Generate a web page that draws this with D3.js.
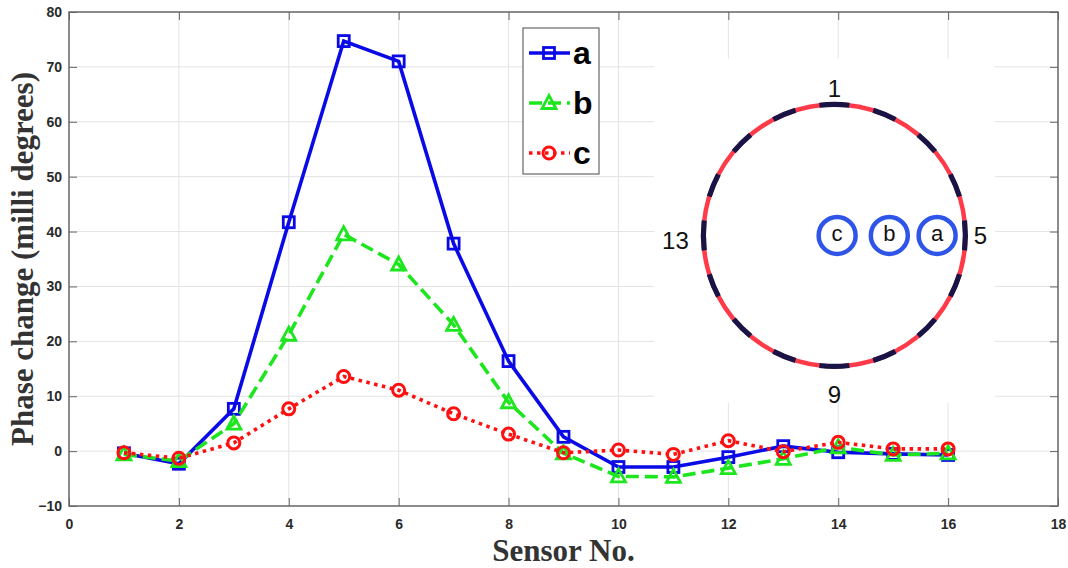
<!DOCTYPE html>
<html>
<head>
<meta charset="utf-8">
<script src="https://cdn.jsdelivr.net/npm/d3@7"></script>
<style>
  body { margin: 0; background: #fff; }
  svg { display: block; }
</style>
</head>
<body>
<div id="chart"></div>
<script>
// sensor numbers and measured phase change (milli degrees)
const sensors = [1, 2, 3, 4, 5, 6, 7, 8, 9, 10, 11, 12, 13, 14, 15, 16];
const seriesA = [-0.4, -2.3, 7.7, 41.7, 74.7, 71.0, 37.8, 16.4, 2.6, -2.9, -2.9, -1.1, 0.9, -0.2, -0.5, -0.7];
const seriesB = [-0.6, -1.8, 5.0, 21.2, 39.5, 34.0, 23.0, 8.9, -0.4, -4.6, -4.7, -3.1, -1.4, 0.7, -0.7, -0.4];
const seriesC = [-0.3, -1.3, 1.5, 7.7, 13.6, 11.1, 6.8, 3.1, -0.3, 0.2, -0.6, 1.9, -0.1, 1.6, 0.4, 0.4];
const xTicks = [0, 2, 4, 6, 8, 10, 12, 14, 16, 18];
const yTicks = [-10, 0, 10, 20, 30, 40, 50, 60, 70, 80];
const seriesNames = ["a", "b", "c"];

// inset sketch: sensor ring labels and source positions (in axis units)
const ringLabels = [1, 5, 9, 13];
const sourceNames = ["c", "b", "a"];
const sourceX = [13.98, 14.93, 15.8];

const W = 1068, H = 568;
const margin = {top: 12, right: 10, bottom: 62, left: 69};
const width = W - margin.left - margin.right;
const height = H - margin.top - margin.bottom;

const svg = d3.select("#chart").append("svg")
    .attr("width", W).attr("height", H);
const g = svg.append("g")
    .attr("transform", `translate(${margin.left},${margin.top})`);

const x = d3.scaleLinear().domain([0, 18]).range([0, width]);
const y = d3.scaleLinear().domain([-10, 80]).range([height, 0]);

// grid
g.append("g").selectAll("line").data(xTicks.slice(1, -1)).join("line")
    .attr("x1", d => x(d)).attr("x2", d => x(d))
    .attr("y1", 0).attr("y2", height)
    .attr("stroke", "#e3e3e3").attr("stroke-width", 1);
g.append("g").selectAll("line").data(yTicks.slice(1, -1)).join("line")
    .attr("x1", 0).attr("x2", width)
    .attr("y1", d => y(d)).attr("y2", d => y(d))
    .attr("stroke", "#e3e3e3").attr("stroke-width", 1);

// inset picture background (covers grid)
g.append("rect")
    .attr("x", x(10.65)).attr("y", y(71.5))
    .attr("width", x(16.85) - x(10.65)).attr("height", y(8.8) - y(71.5))
    .attr("fill", "#fff");

function styleAxis(a) {
    a.select(".domain").remove();
    a.selectAll("line").attr("stroke", "#666");
    a.selectAll("text")
        .style("font-family", "'Liberation Sans', Arial, sans-serif")
        .style("font-weight", "bold").style("font-size", "14px").style("fill", "#2a2a2a");
}

// axes
const xAxis = d3.axisBottom(x).tickValues(xTicks).tickSize(-8).tickPadding(13);
const yAxis = d3.axisLeft(y).tickValues(yTicks).tickSize(-8).tickPadding(7);
g.append("g").attr("transform", `translate(0,${height})`).call(xAxis).call(styleAxis);
g.append("g").call(yAxis).call(styleAxis);
// top and right ticks
g.append("g").call(d3.axisTop(x).tickValues(xTicks).tickSize(-8).tickFormat(""))
    .call(styleAxis);
g.append("g").attr("transform", `translate(${width},0)`)
    .call(d3.axisRight(y).tickValues(yTicks).tickSize(-8).tickFormat(""))
    .call(styleAxis);
g.append("rect").attr("width", width).attr("height", height)
    .attr("fill", "none").attr("stroke", "#666").attr("stroke-width", 1.5);

// axis titles
svg.append("text")
    .attr("x", margin.left + x(9)).attr("y", 561)
    .attr("text-anchor", "middle")
    .style("font-family", "'Liberation Serif', 'Times New Roman', serif")
    .style("font-weight", "bold").style("font-size", "31px").style("fill", "#333")
    .text("Sensor No.");
svg.append("text")
    .attr("transform", `translate(22,${margin.top + y(35)}) rotate(-90)`)
    .attr("text-anchor", "middle").attr("dominant-baseline", "central")
    .style("font-family", "'Liberation Serif', 'Times New Roman', serif")
    .style("font-weight", "bold").style("font-size", "31px").style("fill", "#333")
    .text("Phase change (milli degrees)");

// inset ring
const cx = x(13.93), cy = y(39.3), r = 131;
const inset = g.append("g").attr("transform", `translate(${cx},${cy})`);
inset.append("circle").attr("r", r).attr("fill", "none")
    .attr("stroke", "#ff3b4a").attr("stroke-width", 4.5);
const arc = d3.arc().innerRadius(r - 2.6).outerRadius(r + 2.6);
inset.selectAll("path.sensor").data(sensors).join("path")
    .attr("class", "sensor")
    .attr("d", (d, i) => {
        const a = i * Math.PI / 8;
        const half = (i % 4 === 0 ? 15 : 12) / r;
        return arc({startAngle: a - half, endAngle: a + half});
    })
    .attr("fill", "#1a1446");
const labelPos = {1: [0, -r - 16], 5: [r + 15, 0], 9: [0, r + 28], 13: [-r - 28, 5]};
inset.selectAll("text.ring").data(ringLabels).join("text")
    .attr("class", "ring")
    .attr("x", d => labelPos[d][0]).attr("y", d => labelPos[d][1])
    .attr("text-anchor", "middle").attr("dominant-baseline", "central")
    .style("font-family", "'Liberation Sans', Arial, sans-serif")
    .style("font-size", "24px").style("fill", "#111")
    .text(d => d);
const src = g.append("g");
src.selectAll("circle").data(sourceNames).join("circle")
    .attr("cx", (d, i) => x(sourceX[i])).attr("cy", cy).attr("r", 18.5)
    .attr("fill", "#fff").attr("stroke", "#2f55e8").attr("stroke-width", 4.5);
src.selectAll("text").data(sourceNames).join("text")
    .attr("x", (d, i) => x(sourceX[i])).attr("y", cy - 2)
    .attr("text-anchor", "middle").attr("dominant-baseline", "central")
    .style("font-family", "'Liberation Sans', Arial, sans-serif")
    .style("font-size", "22px").style("fill", "#111")
    .text(d => d);

// series
const styles = [
    {data: seriesA, color: "#0a0ae6", dash: null, marker: "square"},
    {data: seriesB, color: "#1ee61e", dash: "13,6", marker: "triangle"},
    {data: seriesC, color: "#ff1010", dash: "3.5,4.5", marker: "circle"}
];
const line = d3.line().x((d, i) => x(sensors[i])).y(d => y(d));

function drawMarker(sel, type, color) {
    if (type === "square") {
        sel.append("rect").attr("x", -5.5).attr("y", -5.5).attr("width", 11).attr("height", 11)
            .attr("fill", "none").attr("stroke", color).attr("stroke-width", 2.8);
    } else if (type === "triangle") {
        sel.append("path").attr("d", "M0,-7.5L7,5.5L-7,5.5Z")
            .attr("fill", "none").attr("stroke", color).attr("stroke-width", 2.8);
    } else {
        sel.append("circle").attr("r", 6)
            .attr("fill", "none").attr("stroke", color).attr("stroke-width", 3);
    }
}

styles.forEach(s => {
    g.append("path").datum(s.data)
        .attr("d", line)
        .attr("fill", "none").attr("stroke", s.color).attr("stroke-width", 3.6)
        .attr("stroke-dasharray", s.dash);
    g.append("g").selectAll("g").data(s.data).join("g")
        .attr("transform", (d, i) => `translate(${x(sensors[i])},${y(d)})`)
        .each(function() { drawMarker(d3.select(this), s.marker, s.color); });
});

// legend
const legend = svg.append("g").attr("transform", "translate(523,28)");
legend.append("rect").attr("width", 76).attr("height", 146)
    .attr("fill", "#fff").attr("stroke", "#666").attr("stroke-width", 1.2);
styles.forEach((s, i) => {
    const ly = 25 + i * 50;
    const item = legend.append("g").attr("transform", `translate(0,${ly})`);
    item.append("line").attr("x1", 6).attr("x2", 47).attr("y1", 0).attr("y2", 0)
        .attr("stroke", s.color).attr("stroke-width", 3.6)
        .attr("stroke-dasharray", s.dash);
    const m = item.append("g").attr("transform", "translate(26,0)");
    drawMarker(m, s.marker, s.color);
    item.append("text").attr("x", 50).attr("y", 0)
        .attr("dominant-baseline", "central")
        .style("font-family", "'Liberation Sans', Arial, sans-serif")
        .style("font-weight", "bold").style("font-size", "32px").style("fill", "#000")
        .text(seriesNames[i]);
});
</script>
</body>
</html>
